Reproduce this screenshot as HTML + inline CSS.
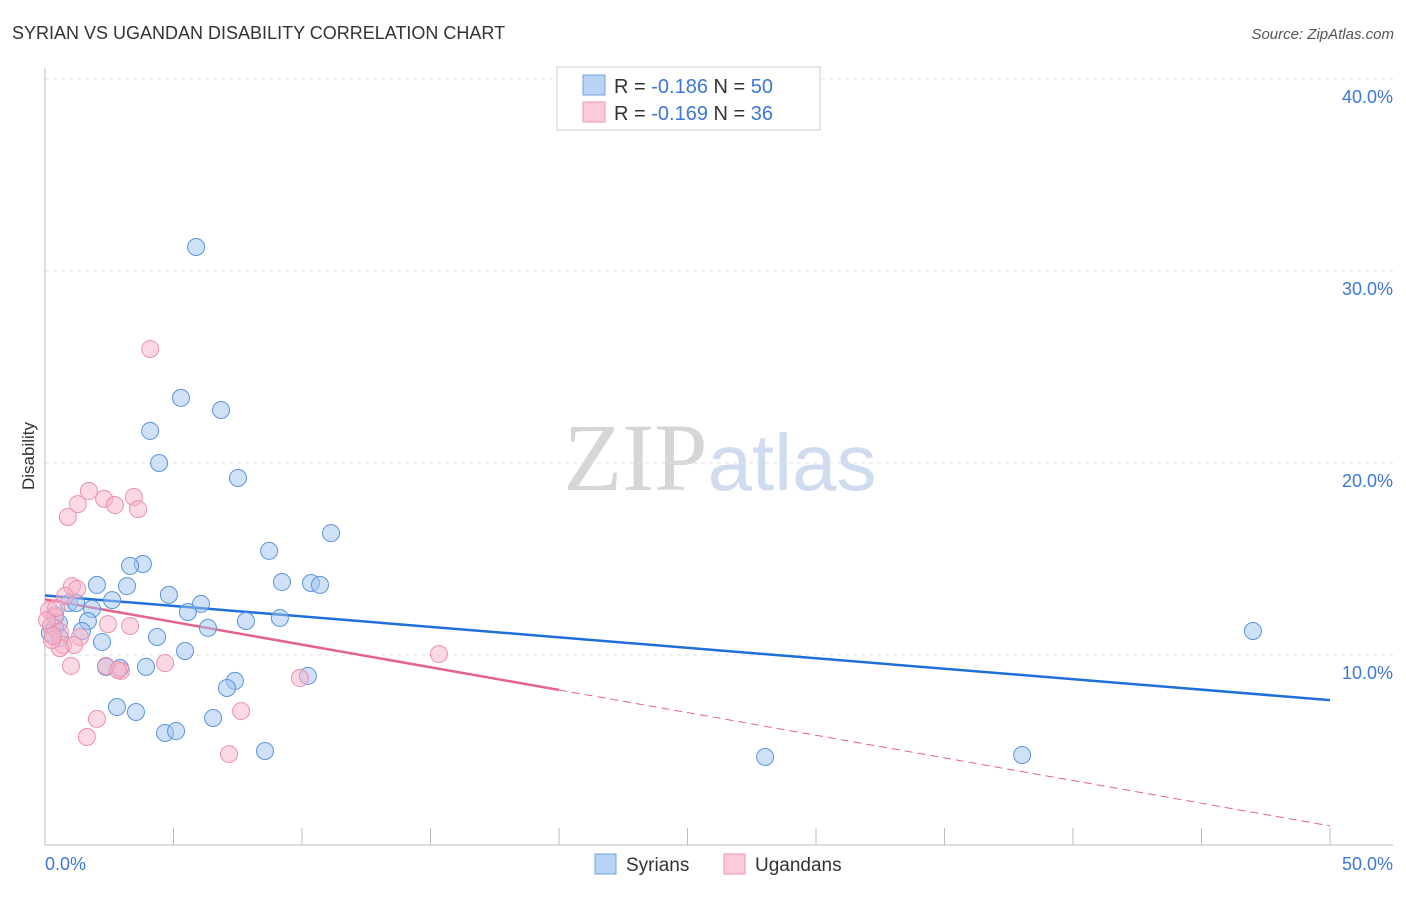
<!DOCTYPE html>
<html><head><meta charset="utf-8"><style>
body{margin:0;background:#fff;font-family:"Liberation Sans",sans-serif;}
svg text{font-family:"Liberation Sans",sans-serif;}
</style></head><body>
<svg id="chart" width="1406" height="892" xmlns="http://www.w3.org/2000/svg">
<text x="12" y="39" font-size="18" fill="#333">SYRIAN VS UGANDAN DISABILITY CORRELATION CHART</text>
<text x="1394" y="39" font-size="15" fill="#555" text-anchor="end" font-style="italic">Source: ZipAtlas.com</text>
<text x="720" y="490" font-size="96" text-anchor="middle"><tspan fill="#d6d6d6" font-family="Liberation Serif">ZIP</tspan><tspan fill="#cfdcf0" font-size="80">atlas</tspan></text>
<g id="grid"></g>
<line x1="45" y1="68" x2="45" y2="845" stroke="#bbb"/>
<line x1="45" y1="845" x2="1393" y2="845" stroke="#bbb"/>
<text transform="translate(34,456) rotate(-90)" font-size="17" fill="#333" text-anchor="middle">Disability</text>
<text x="45" y="870" font-size="18" fill="#3b78d8">0.0%</text>
<text x="1393" y="870" font-size="18" fill="#3b78d8" text-anchor="end">50.0%</text>
<g id="trends"></g>
<g id="points"></g>
<g>
<rect x="557" y="67" width="263" height="63" fill="#fff" stroke="#ccc"/>
<rect x="583" y="75" width="22" height="20" fill="#b9d3f5" stroke="#6fa0e0"/>
<text x="614" y="93" font-size="20" fill="#333">R = <tspan fill="#3b78d8">-0.186</tspan>   N = <tspan fill="#3b78d8">50</tspan></text>
<rect x="583" y="102" width="22" height="20" fill="#fbcbd9" stroke="#ee9ab5"/>
<text x="614" y="120" font-size="20" fill="#333">R = <tspan fill="#3b78d8">-0.169</tspan>   N = <tspan fill="#3b78d8">36</tspan></text>
</g>
<g>
<rect x="595" y="854" width="21" height="20" fill="#b9d3f5" stroke="#6fa0e0"/>
<text x="626" y="871" font-size="19" fill="#333">Syrians</text>
<rect x="724" y="854" width="21" height="20" fill="#fbcbd9" stroke="#ee9ab5"/>
<text x="755" y="871" font-size="19" fill="#333">Ugandans</text>
</g>
</svg>
<script>
const yTicks=[10,20,30,40];
const yTickLabels=["10.0%","20.0%","30.0%","40.0%"];
const xTicks=[5,10,15,20,25,30,35,40,45,50];
const syrX=[5.88,5.29,6.85,4.09,4.44,7.51,11.13,8.72,3.81,3.31,2.02,3.19,9.22,10.35,10.70,4.82,2.61,0.93,1.21,6.07,1.83,5.56,7.82,9.14,1.67,0.54,1.44,6.34,4.36,2.22,5.45,0.39,0.19,0.58,10.23,3.93,2.37,2.92,7.39,7.08,2.80,3.54,6.54,4.67,5.10,8.56,28.02,38.02,47.0,0.39];
const syrY=[31.25,23.39,22.76,21.67,20.0,19.22,16.35,15.42,14.74,14.64,13.65,13.59,13.80,13.75,13.65,13.13,12.86,12.71,12.71,12.66,12.40,12.24,11.77,11.93,11.77,11.67,11.25,11.41,10.94,10.68,10.21,11.41,11.15,10.89,8.91,9.38,9.38,9.32,8.65,8.28,7.29,7.03,6.72,5.94,6.04,5.0,4.69,4.79,11.25,12.08];
const ugaX=[4.09,1.71,2.30,3.46,1.28,2.72,3.62,0.89,1.05,1.25,0.78,0.16,0.39,0.23,2.45,3.31,0.58,1.36,0.70,1.13,0.58,1.01,2.37,2.96,4.67,15.33,9.92,2.02,7.63,1.63,7.16,0.27,0.08,0.43,0.31,2.84];
const ugaY=[25.94,18.54,18.13,18.23,17.86,17.81,17.60,17.19,13.59,13.44,13.07,12.34,11.98,11.51,11.61,11.51,11.20,10.94,10.52,10.52,10.36,9.43,9.43,9.17,9.58,10.05,8.80,6.67,7.08,5.73,4.84,10.78,11.82,12.45,10.99,9.22];
const syrTrend=[13.1,7.65];
const ugaTrend=[12.9,1.1];
const ugaSolidEnd=20;
const NS="http://www.w3.org/2000/svg";
function sx(v){return 45+v*(1285/50);}
function sy(v){return 847-v*19.2;}
function mk(t,a){const e=document.createElementNS(NS,t);for(const k in a)e.setAttribute(k,a[k]);return e;}
const grid=document.getElementById('grid');
yTicks.forEach((t,i)=>{
  const l=mk('line',{x1:45,x2:1393,y1:sy(t),y2:sy(t),stroke:'#e2e2e2','stroke-dasharray':'4,4'});
  
  
  grid.appendChild(l);
  const tx=mk('text',{x:1393,y:sy(t)+24,'font-size':18,fill:'#3b78d8','text-anchor':'end'});
  tx.textContent=yTickLabels[i];
  
  
  grid.appendChild(tx);
});
xTicks.forEach(t=>{
  const l=mk('line',{x1:sx(t),x2:sx(t),y1:828,y2:845,stroke:'#bbb'});
  
  
  grid.appendChild(l);
});
const pts=document.getElementById('points');
syrX.forEach((x,i)=>{
  const c=mk('circle',{cx:sx(x),cy:sy(syrY[i]),r:8.5,fill:'rgba(160,196,240,0.5)',stroke:'#5b93de','stroke-width':1});
  
  
  pts.appendChild(c);
});
ugaX.forEach((x,i)=>{
  const c=mk('circle',{cx:sx(x),cy:sy(ugaY[i]),r:8.5,fill:'rgba(248,180,202,0.5)',stroke:'#ec8fae','stroke-width':1});
  
  
  pts.appendChild(c);
});
const tr=document.getElementById('trends');
function at(t,x){return t[0]+(t[1]-t[0])*x/50;}
const b=mk('line',{x1:sx(0),y1:sy(syrTrend[0]),x2:sx(50),y2:sy(syrTrend[1]),stroke:'#1f6fd8','stroke-width':2.5});


tr.appendChild(b);
const p1=mk('line',{x1:sx(0),y1:sy(ugaTrend[0]),x2:sx(ugaSolidEnd),y2:sy(at(ugaTrend,ugaSolidEnd)),stroke:'#e5628f','stroke-width':2.5});


tr.appendChild(p1);
const p2=mk('line',{x1:sx(ugaSolidEnd),y1:sy(at(ugaTrend,ugaSolidEnd)),x2:sx(50),y2:sy(ugaTrend[1]),stroke:'#e5628f','stroke-width':1,'stroke-dasharray':'8,5'});


tr.appendChild(p2);
</script>
</body></html>
